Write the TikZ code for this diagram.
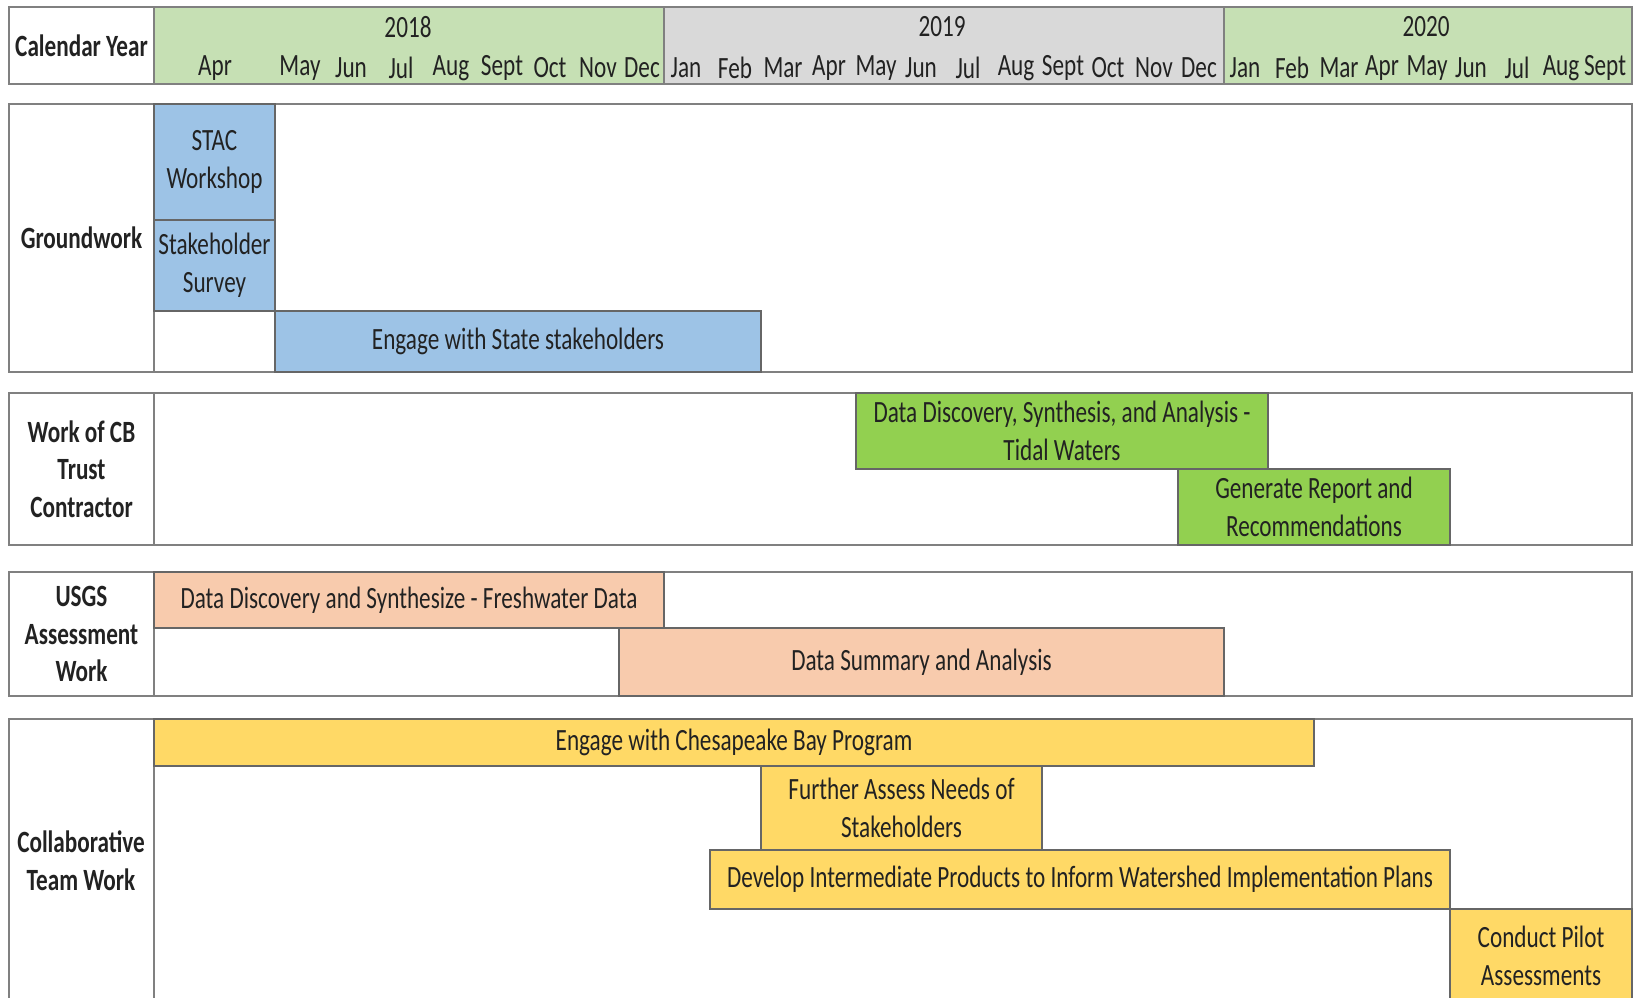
\documentclass[tikz,border=0pt]{standalone}
\usepackage{fontspec}
\setmainfont[FakeStretch=0.75]{Carlito}
\usetikzlibrary{fit}
\definecolor{hdrgreen}{HTML}{C6E0B4}
\definecolor{hdrgrey}{HTML}{D9D9D9}
\definecolor{barblue}{HTML}{9DC3E6}
\definecolor{bargreen}{HTML}{92D050}
\definecolor{barsalmon}{HTML}{F8CBAD}
\definecolor{baryellow}{HTML}{FFD966}
\definecolor{rulegrey}{HTML}{808080}
\definecolor{textdark}{HTML}{222222}

\begin{document}
\begin{tikzpicture}[x=0.1mm, y=-0.1mm,
    every node/.style={font=\fontsize{8.8}{10.7}\selectfont, text=textdark},
    cell/.style={draw=rulegrey, line width=0.6pt, inner sep=0pt},
    task/.style={draw=black!60, line width=0.6pt, inner sep=0pt},
    intext/.style={align=center},
    boldtext/.style={align=center, font=\fontsize{8.8}{10.7}\selectfont\bfseries}]
    \useasboundingbox (0,0) rectangle (1642,997);
    \clip (0,0) rectangle (1642,997);
        % header
        \node[cell, fit={(9,7) (154,84)}, label={[boldtext]center:Calendar Year}] (calyear) {};
        \node[cell, fill=hdrgreen, fit={(154,7) (664,84)}] (y2018) {};
        \node[cell, fill=hdrgrey, fit={(664,7) (1224,84)}] (y2019) {};
        \node[cell, fill=hdrgreen, fit={(1224,7) (1632,84)}] (y2020) {};
        \node (t2018) at (408,27) {2018};
        \node (t2019) at (942,27) {2019};
        \node (t2020) at (1426,27) {2020};
        \foreach \yr/\m/\x in {18/Apr/215, 18/May/300, 18/Jun/351, 18/Jul/401, 18/Aug/451,
                18/Sept/502, 18/Oct/550, 18/Nov/598, 18/Dec/642,
                19/Jan/686, 19/Feb/735, 19/Mar/783, 19/Apr/829, 19/May/876, 19/Jun/921,
                19/Jul/968, 19/Aug/1016, 19/Sept/1063, 19/Oct/1108, 19/Nov/1154, 19/Dec/1199,
                20/Jan/1245, 20/Feb/1292, 20/Mar/1339, 20/Apr/1382, 20/May/1427,
                20/Jun/1471, 20/Jul/1517, 20/Aug/1561, 20/Sept/1605}
            \node (m\yr\m) at (\x,68) {\m};
        % Groundwork
        \node[cell, fit={(9,104) (154,372)}, label={[boldtext]center:Groundwork}] (groundlbl) {};
        \node[cell, fit={(154,104) (1632,372)}] (groundrow) {};
        \node[task, fill=barblue, fit={(154,104) (275,220)},
            label={[intext]center:STAC\\Workshop}] (stac) {};
        \node[task, fill=barblue, fit={(154,220) (275,311)},
            label={[intext]center:Stakeholder\\Survey}] (survey) {};
        \node[task, fill=barblue, fit={(275,311) (761,372)},
            label={[intext]center:Engage with State stakeholders}] (state) {};
        % Work of CB Trust Contractor
        \node[cell, fit={(9,393) (154,545)},
            label={[boldtext]center:Work of CB\\Trust\\Contractor}] (trustlbl) {};
        \node[cell, fit={(154,393) (1632,545)}] (trustrow) {};
        \node[task, fill=bargreen, fit={(856,393) (1268,469)},
            label={[intext]center:Data Discovery, Synthesis, and Analysis -\\Tidal Waters}] (tidal) {};
        \node[task, fill=bargreen, fit={(1178,469) (1450,545)},
            label={[intext]center:Generate Report and\\Recommendations}] (report) {};
        % USGS Assessment Work
        \node[cell, fit={(9,572) (154,696)},
            label={[boldtext]center:USGS\\Assessment\\Work}] (usgslbl) {};
        \node[cell, fit={(154,572) (1632,696)}] (usgsrow) {};
        \node[task, fill=barsalmon, fit={(154,572) (664,628)},
            label={[intext]center:Data Discovery and Synthesize - Freshwater Data}] (fresh) {};
        \node[task, fill=barsalmon, fit={(619,628) (1224,696)},
            label={[intext]center:Data Summary and Analysis}] (summary) {};
        % Collaborative Team Work
        \node[cell, fit={(9,719) (154,1003)}] (collablbl) {};
        \node[boldtext] (collabtxt) at (81,861) {Collaborative\\Team Work};
        \node[cell, fit={(154,719) (1632,1003)}] (collabrow) {};
        \node[task, fill=baryellow, fit={(154,719) (1314,766)},
            label={[intext]center:Engage with Chesapeake Bay Program}] (cbp) {};
        \node[task, fill=baryellow, fit={(761,766) (1042,850)},
            label={[intext]center:Further Assess Needs of\\Stakeholders}] (needs) {};
        \node[task, fill=baryellow, fit={(710,850) (1450,909)},
            label={[intext]center:Develop Intermediate Products to Inform Watershed Implementation Plans}] (wip) {};
        \node[task, fill=baryellow, fit={(1450,909) (1632,1003)},
            label={[intext]center:Conduct Pilot\\Assessments}] (pilot) {};
    \end{tikzpicture}
\end{document}
